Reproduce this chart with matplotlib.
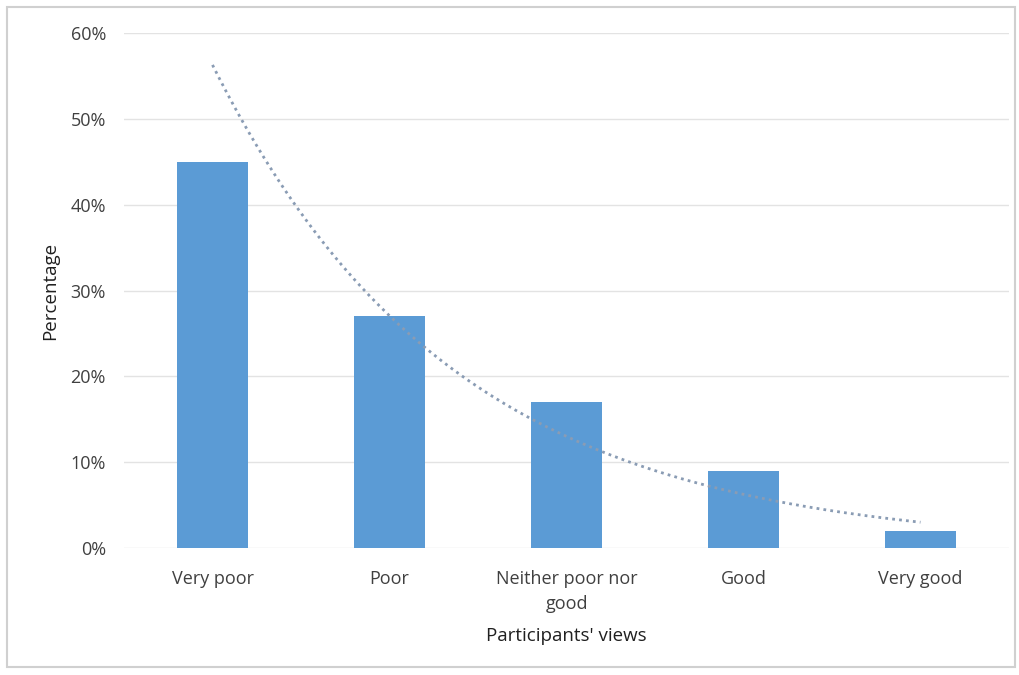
import numpy as np
import matplotlib.pyplot as plt
from matplotlib.patches import Rectangle
from matplotlib.ticker import PercentFormatter

# Participants' views, share of responses (%)
categories = ["Very poor", "Poor", "Neither poor nor\ngood", "Good", "Very good"]
percent = [45, 27, 17, 9, 2]

plt.rcParams['font.family'] = ['Open Sans', 'DejaVu Sans']

fig = plt.figure(figsize=(10.2, 6.75), dpi=100)
ax = fig.add_axes([124 / 1020, 1 - 548 / 675, 885 / 1020, 515 / 675])

x = np.arange(len(categories))
ax.bar(x, percent, width=0.4, color='#5B9BD5', zorder=3)

# exponential trendline fitted to the bar values
xs = x + 1
b, ln_a = np.polyfit(xs, np.log(percent), 1)
xt = np.linspace(1, len(categories), 200)
ax.plot(xt - 1, np.exp(ln_a + b * xt), linestyle=(0, (1, 1.5)), color='#8a9cb4',
        linewidth=2, zorder=4)

ax.set_xlim(-0.5, len(categories) - 0.5)
ax.set_ylim(0, 60)
ax.set_yticks(range(0, 61, 10))
ax.yaxis.set_major_formatter(PercentFormatter(decimals=0))
ax.set_xticks(x)
ax.set_xticklabels(categories, fontsize=13, color='#404040', linespacing=1.5)
ax.tick_params(axis='y', labelsize=13, labelcolor='#404040', length=0, pad=13)
ax.tick_params(axis='x', length=0, pad=16)
ax.grid(axis='y', color='#e3e3e3', linewidth=1, zorder=0)
for s in ax.spines.values():
    s.set_visible(False)

ax.set_xlabel("Participants' views", fontsize=13.5, color='#202020', labelpad=10)
ax.set_ylabel("Percentage", fontsize=13.5, color='#202020', labelpad=8)

# light frame around the chart area
fig.patches.append(Rectangle((7 / 1020, 8 / 675), 1008 / 1020, 660 / 675,
                             transform=fig.transFigure, fill=False,
                             edgecolor='#d0d0d0', linewidth=1.5))

fig.savefig('out.png', dpi=100)
